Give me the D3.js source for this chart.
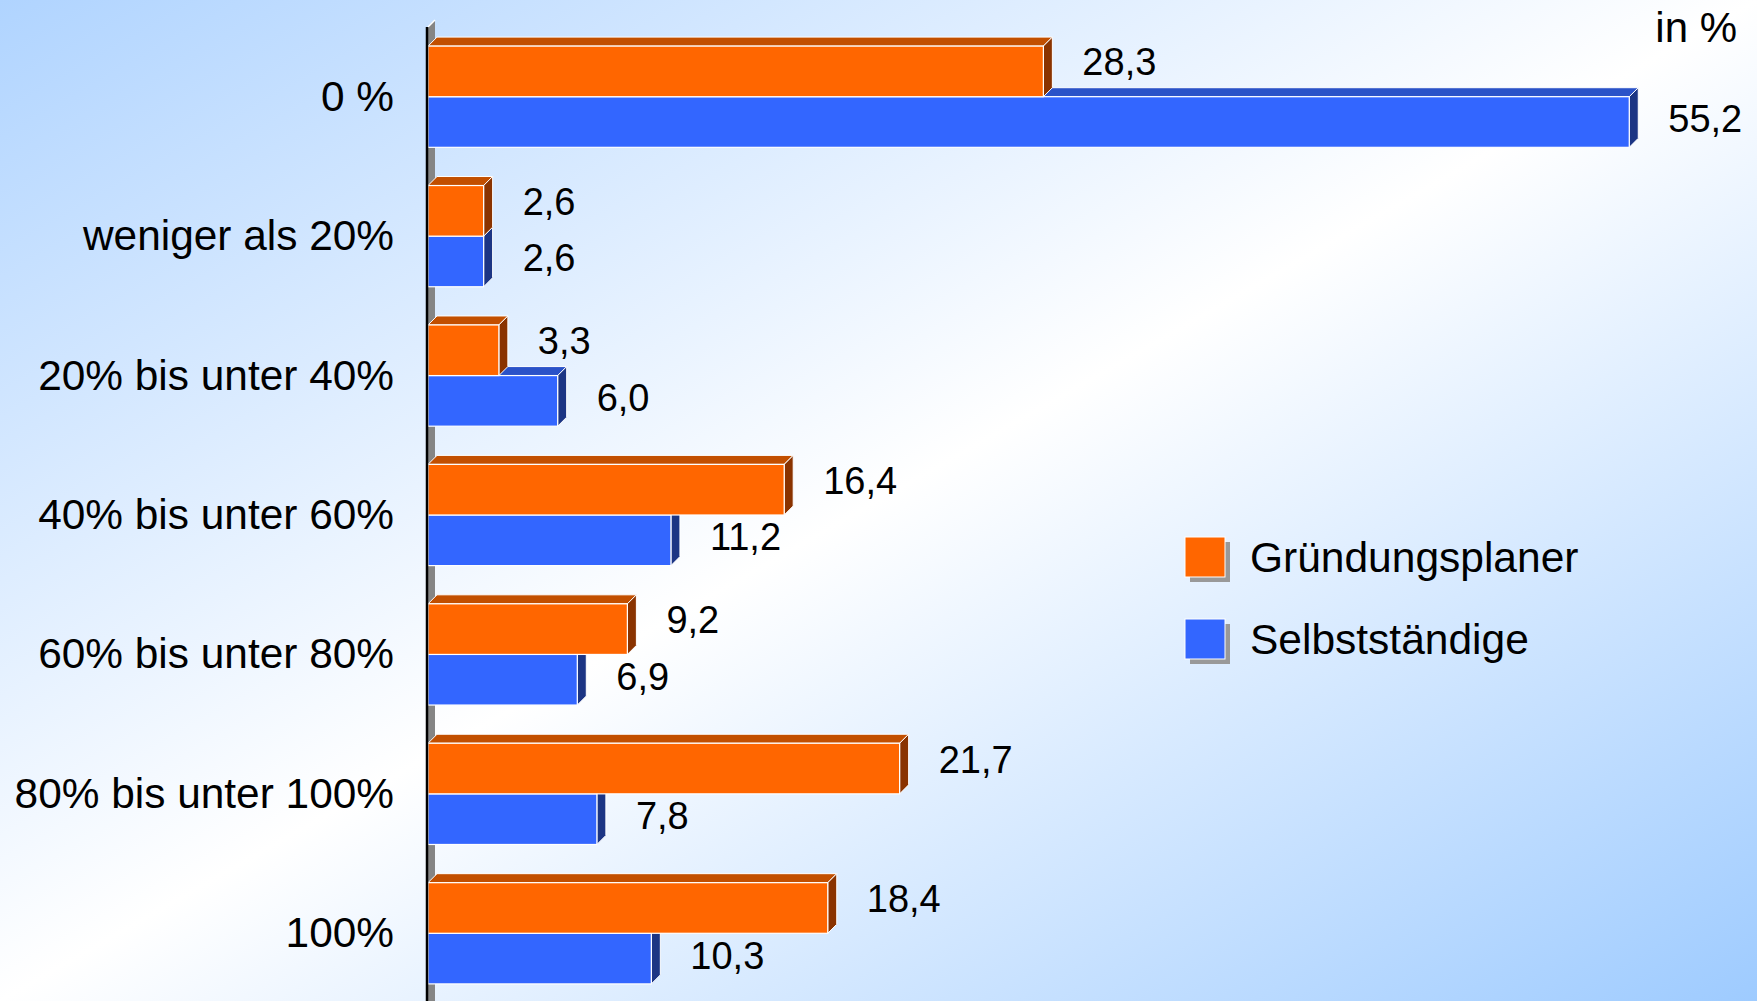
<!DOCTYPE html>
<html>
<head>
<meta charset="utf-8">
<script src="https://cdn.jsdelivr.net/npm/d3@7"></script>
<style>
  html, body { margin: 0; padding: 0; overflow: hidden; }
  svg { display: block; font-family: "Liberation Sans", Arial, sans-serif; }
</style>
</head>
<body>
<script>
// data
var categories = ["0 %", "weniger als 20%", "20% bis unter 40%", "40% bis unter 60%",
                  "60% bis unter 80%", "80% bis unter 100%", "100%"];
var seriesNames = ["Gründungsplaner", "Selbstständige"];
var gruender = [28.3, 2.6, 3.3, 16.4, 9.2, 21.7, 18.4];
var selbst = [55.2, 2.6, 6.0, 11.2, 6.9, 7.8, 10.3];
var unitLabel = "in %";

var width = 1757, height = 1001;
var depth = 9;

var colors = {
  "Gründungsplaner": { front: "#ff6600", top: "#c24f00", side: "#8a3300" },
  "Selbstständige": { front: "#3366ff", top: "#2a52c8", side: "#1c3584" }
};

var rows = categories.map(function(c, i) {
  return { cat: c, values: [
    { key: seriesNames[0], value: gruender[i] },
    { key: seriesNames[1], value: selbst[i] }
  ]};
});

var svg = d3.select("body").append("svg")
    .attr("width", width)
    .attr("height", height);

// background gradient
var defs = svg.append("defs");
var grad = defs.append("linearGradient")
    .attr("id", "bg")
    .attr("x1", 0).attr("y1", 0).attr("x2", 1).attr("y2", 1);
grad.append("stop").attr("offset", "0%").attr("stop-color", "#b0d4ff");
grad.append("stop").attr("offset", "50%").attr("stop-color", "#ffffff");
grad.append("stop").attr("offset", "100%").attr("stop-color", "#9ecbff");

svg.append("rect")
    .attr("width", width)
    .attr("height", height)
    .attr("fill", "url(#bg)");

var x = d3.scaleLinear()
    .domain([0, 60])
    .range([427, 427 + 60 * 21.78]);

var y = d3.scaleBand()
    .domain(categories)
    .range([27, 1003])
    .paddingInner(0.274)
    .paddingOuter(0.137);

var ySeries = d3.scaleBand()
    .domain(seriesNames)
    .range([0, y.bandwidth()]);

// grey wall behind the bars
svg.append("path")
    .attr("d", "M" + (x(0) + 1) + "," + height + "V" + y.range()[0] +
               "l7,-7V" + height + "Z")
    .attr("fill", "#858585");
svg.append("path")
    .attr("d", "M" + (x(0) + 1) + "," + y.range()[0] + "l7,-7")
    .attr("stroke", "#fff")
    .attr("stroke-width", 1.5)
    .attr("fill", "none");

var groups = svg.selectAll(".grp")
    .data(rows)
  .enter().append("g")
    .attr("class", "grp")
    .attr("transform", function(d) { return "translate(0," + y(d.cat) + ")"; });

// draw blue first so orange sits over it
var bars = groups.selectAll(".bar")
    .data(function(d) { return d.values.slice().reverse(); })
  .enter().append("g")
    .attr("class", "bar");

bars.append("path")
    .attr("d", function(d) {
      var y0 = ySeries(d.key), x0 = x(0) + 1, x1 = x(d.value);
      return "M" + x0 + "," + y0 + "l" + depth + "," + (-depth) +
             "H" + (x1 + depth) + "L" + x1 + "," + y0 + "Z";
    })
    .attr("fill", function(d) { return colors[d.key].top; })
    .attr("stroke", "#fff")
    .attr("stroke-width", 1);

bars.append("path")
    .attr("d", function(d) {
      var y0 = ySeries(d.key), x1 = x(d.value), h = ySeries.bandwidth();
      return "M" + x1 + "," + y0 + "l" + depth + "," + (-depth) +
             "v" + h + "l" + (-depth) + "," + depth + "Z";
    })
    .attr("fill", function(d) { return colors[d.key].side; })
    .attr("stroke", "#fff")
    .attr("stroke-width", 1);

bars.append("rect")
    .attr("x", x(0) + 1)
    .attr("y", function(d) { return ySeries(d.key); })
    .attr("width", function(d) { return x(d.value) - x(0) - 1; })
    .attr("height", ySeries.bandwidth())
    .attr("fill", function(d) { return colors[d.key].front; })
    .attr("stroke", "#fff")
    .attr("stroke-width", 1.2);

// value labels
bars.append("text")
    .attr("x", function(d) { return x(d.value) + depth + 30; })
    .attr("y", function(d) {
      var off = d.key === seriesNames[0] ? -9 : -3;
      return ySeries(d.key) + ySeries.bandwidth() / 2 + off + 13;
    })
    .attr("font-size", 38)
    .attr("fill", "#000")
    .text(function(d) { return d3.format(".1f")(d.value).replace(".", ","); });

// axis line
svg.append("line")
    .attr("x1", x(0)).attr("x2", x(0))
    .attr("y1", y.range()[0]).attr("y2", height)
    .attr("stroke", "#000")
    .attr("stroke-width", 2.5);

// category labels
svg.selectAll(".cat")
    .data(categories)
  .enter().append("text")
    .attr("class", "cat")
    .attr("x", 394)
    .attr("y", function(d) { return y(d) + y.bandwidth() / 2 + 14; })
    .attr("text-anchor", "end")
    .attr("font-size", 42.4)
    .text(function(d) { return d; });

svg.append("text")
    .attr("x", 1737)
    .attr("y", 42)
    .attr("text-anchor", "end")
    .attr("font-size", 42)
    .text(unitLabel);

// legend
var legend = svg.selectAll(".leg")
    .data(seriesNames)
  .enter().append("g")
    .attr("class", "leg")
    .attr("transform", function(d, i) { return "translate(1185," + (537 + i * 82) + ")"; });

legend.append("rect")
    .attr("x", 5).attr("y", 5)
    .attr("width", 40).attr("height", 40)
    .attr("fill", "#999");
legend.append("rect")
    .attr("width", 40).attr("height", 40)
    .attr("fill", function(d) { return colors[d].front; })
    .attr("stroke", "#fff")
    .attr("stroke-width", 1);
legend.append("text")
    .attr("x", 65)
    .attr("y", 35)
    .attr("font-size", 42.5)
    .text(function(d) { return d; });
</script>
</body>
</html>
